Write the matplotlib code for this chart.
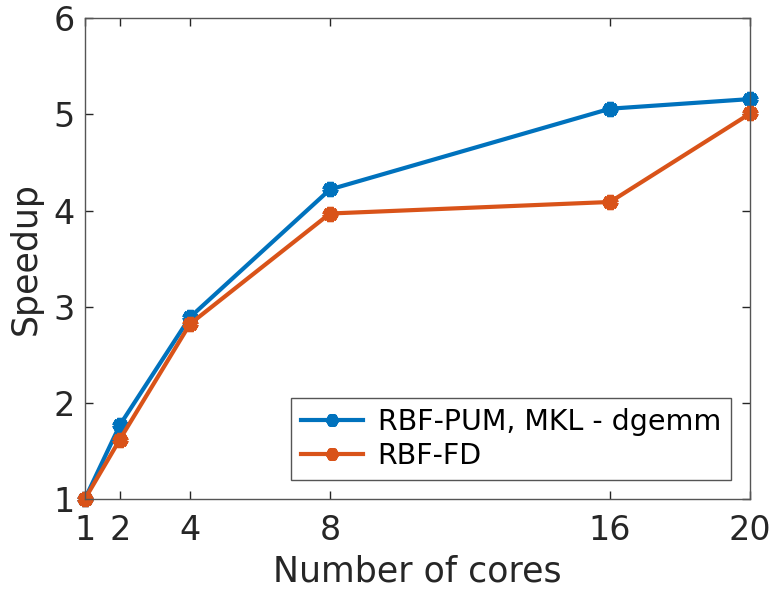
import matplotlib
matplotlib.use('Agg')
import matplotlib.pyplot as plt

# Speedup vs number of cores
cores = [1, 2, 4, 8, 16, 20]
pum_speedup = [1.0, 1.77, 2.89, 4.22, 5.06, 5.16]
fd_speedup = [1.0, 1.62, 2.82, 3.97, 4.09, 5.01]

plt.rcParams['font.family'] = 'DejaVu Sans'
axis_color = '#262626'

fig = plt.figure(figsize=(7.71, 5.90), dpi=100)
ax = fig.add_axes([0.110, 0.154, 0.863, 0.815])

ax.plot(cores, pum_speedup, color='#0072BD', linewidth=3, marker=(6, 2, 0),
        markersize=11, markeredgewidth=4.5, label='RBF-PUM, MKL - dgemm', clip_on=False)
ax.plot(cores, fd_speedup, color='#D95319', linewidth=3, marker=(6, 2, 0),
        markersize=11, markeredgewidth=4.5, label='RBF-FD', clip_on=False)

ax.set_xlim(1, 20)
ax.set_ylim(1, 6)
ax.set_xticks(cores)
ax.set_yticks([1, 2, 3, 4, 5, 6])
ax.tick_params(direction='in', top=True, right=True, length=6, width=1,
               labelsize=24, colors=axis_color)
ax.tick_params(axis='x', pad=11)
ax.tick_params(axis='y', pad=7)
for sp in ax.spines.values():
    sp.set_color('#555555')
    sp.set_linewidth(1)

ax.set_xlabel('Number of cores', fontsize=25, color=axis_color, labelpad=5)
ax.set_ylabel('Speedup', fontsize=25, color=axis_color, labelpad=8)

leg = ax.legend(loc='lower right', fontsize=20.5, fancybox=False, framealpha=1,
                edgecolor='#555555', handlelength=2.2, borderaxespad=0.68,
                borderpad=0.35, labelspacing=0.2, handletextpad=0.5,
                markerscale=0.8)
leg.get_frame().set_linewidth(1)

fig.savefig('out.png', dpi=100)
